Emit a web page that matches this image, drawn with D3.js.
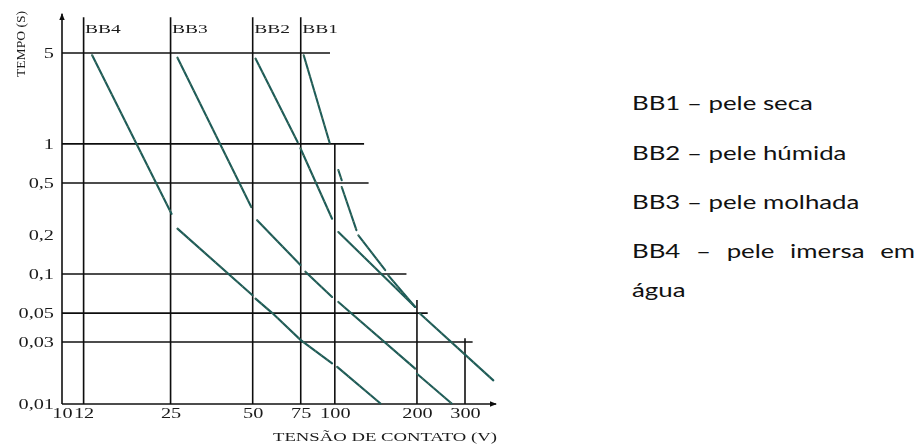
<!DOCTYPE html>
<html>
<head>
<meta charset="utf-8">
<script src="https://cdn.jsdelivr.net/npm/d3@7"></script>
<style>
  html, body { margin: 0; padding: 0; background: #fff; }
  svg { display: block; }
</style>
</head>
<body>
<script>
// Contact voltage (V) vs. maximum disconnection time (s), log-log
const xTicks = [10, 12, 25, 50, 75, 100, 200, 300];
const xTickLabels = ["10", "12", "25", "50", "75", "100", "200", "300"];
const yTicks = [0.01, 0.03, 0.05, 0.1, 0.2, 0.5, 1, 5];
const yTickLabels = ["0,01", "0,03", "0,05", "0,1", "0,2", "0,5", "1", "5"];

// horizontal reference lines: [time (s), voltage where the line stops]
const hGrid = [[5, 96], [1, 128], [0.5, 133], [0.1, 183], [0.05, 219], [0.03, 320]];
// vertical reference lines: [voltage, time where the line stops]
const vGrid = [[12, 9.4], [25, 9.4], [50, 9.4], [75, 9.4], [100, 1], [200, 0.063], [300, 0.032]];

// curve names written at the top of their starting voltage
const curveNames = ["BB4", "BB3", "BB2", "BB1"];
const curveStart = [12, 25, 50, 75];

// each curve is drawn as a series of broken strokes: [voltage, time]
const bb1 = [
  [[76.9, 4.8], [95.7, 1.02]],
  [[103, 0.63], [106, 0.525]],
  [[106, 0.466], [120, 0.217]],
  [[122, 0.198], [153, 0.107]],
  [[157, 0.0976], [197, 0.0557]],
  [[205, 0.0496], [381, 0.0152]]
];
const bb2 = [
  [[51.2, 4.53], [73.1, 1.03]],
  [[74.8, 0.925], [97.7, 0.266]],
  [[103, 0.21], [197, 0.0557]]
];
const bb3 = [
  [[26.5, 4.6], [49.4, 0.327]],
  [[51.9, 0.259], [74.8, 0.117]],
  [[78, 0.104], [97.7, 0.0665]],
  [[103, 0.0609], [197, 0.0187]],
  [[200, 0.0171], [268, 0.0101]]
];
const bb4 = [
  [[12.9, 4.8], [25.2, 0.29]],
  [[26.5, 0.223], [49.9, 0.0685]],
  [[51.2, 0.0646], [59, 0.05], [75, 0.031], [97.7, 0.0205]],
  [[102, 0.0193], [147, 0.0101]]
];

const legendLines = [
  "BB1 – pele seca",
  "BB2 – pele húmida",
  "BB3 – pele molhada",
  "BB4 – pele imersa em",
  "água"
];

const xAxisTitle = "TENSÃO DE CONTATO (V)";
const yAxisTitle = "TEMPO (S)";
const xAxisEnd = 390;
const yAxisEnd = 10;

const W = 918, H = 448;
const serif = "'Liberation Serif', 'Times New Roman', serif";
const stretch = 1.45;

const svg = d3.select("body").append("svg")
  .attr("width", W).attr("height", H)
  .attr("viewBox", `0 0 ${W} ${H}`);

const defs = svg.append("defs");
defs.append("filter").attr("id", "soft")
  .append("feGaussianBlur").attr("stdDeviation", 0.35);
["arrowUp", "arrowRight"].forEach(id => {
  defs.append("marker")
    .attr("id", id)
    .attr("viewBox", "0 0 10 10")
    .attr("refX", 9).attr("refY", 5)
    .attr("markerWidth", 7).attr("markerHeight", 7)
    .attr("markerUnits", "userSpaceOnUse")
    .attr("orient", "auto")
    .append("path").attr("d", "M0,1 L10,5 L0,9 Z").attr("fill", "#111");
});

const x = d3.scaleLog().domain([10, 300]).range([62, 465]);
const y = d3.scaleLog().domain([0.01, 5]).range([404, 53]);

const chart = svg.append("g").attr("filter", "url(#soft)");

// reference grid
chart.append("g").selectAll("line").data(hGrid).join("line")
  .attr("x1", x(10)).attr("x2", d => x(d[1]))
  .attr("y1", d => y(d[0])).attr("y2", d => y(d[0]))
  .attr("stroke", "#111").attr("stroke-width", 1.6);

chart.append("g").selectAll("line").data(vGrid).join("line")
  .attr("x1", d => x(d[0])).attr("x2", d => x(d[0]))
  .attr("y1", y(0.01)).attr("y2", d => y(d[1]))
  .attr("stroke", "#111").attr("stroke-width", 1.6);

// axes with arrow heads
chart.append("line")
  .attr("x1", x(10)).attr("x2", x(10))
  .attr("y1", y(0.01)).attr("y2", y(yAxisEnd))
  .attr("stroke", "#111").attr("stroke-width", 1.6)
  .attr("marker-end", "url(#arrowUp)");
chart.append("line")
  .attr("x1", x(10)).attr("x2", x(xAxisEnd))
  .attr("y1", y(0.01)).attr("y2", y(0.01))
  .attr("stroke", "#111").attr("stroke-width", 1.6)
  .attr("marker-end", "url(#arrowRight)");

// tick labels
const xAxis = chart.append("g")
  .attr("transform", `translate(0,${y(0.01)})`)
  .call(d3.axisBottom(x).tickValues(xTicks)
    .tickFormat((d, i) => xTickLabels[i])
    .tickSize(0).tickPadding(4));
xAxis.select(".domain").remove();
xAxis.selectAll("text")
  .attr("font-family", serif).attr("font-size", 14).attr("fill", "#1a1a1a")
  .attr("transform", `scale(${stretch},1)`);

const yAxis = chart.append("g")
  .attr("transform", `translate(${x(10)},0)`)
  .call(d3.axisLeft(y).tickValues(yTicks)
    .tickFormat((d, i) => yTickLabels[i])
    .tickSize(0).tickPadding(8));
yAxis.select(".domain").remove();
yAxis.selectAll("text")
  .attr("font-family", serif).attr("font-size", 14).attr("fill", "#1a1a1a")
  .attr("x", -8 / stretch)
  .attr("transform", `scale(${stretch},1)`);

// curve names
chart.append("g").selectAll("text").data(curveNames).join("text")
  .attr("transform", (d, i) => `translate(${x(curveStart[i]) + 1.5},33) scale(1.5,1)`)
  .attr("font-family", serif).attr("font-size", 13).attr("fill", "#1a1a1a")
  .text(d => d);

// axis titles
chart.append("text")
  .attr("x", 0).attr("y", 0)
  .attr("transform", "translate(273,441)")
  .attr("font-family", serif).attr("font-size", 13.5).attr("fill", "#1a1a1a")
  .attr("textLength", 224).attr("lengthAdjust", "spacingAndGlyphs")
  .text(xAxisTitle);

chart.append("text")
  .attr("transform", "translate(25,44) rotate(-90)")
  .attr("text-anchor", "middle")
  .attr("font-family", serif).attr("font-size", 13).attr("fill", "#1a1a1a")
  .attr("textLength", 66).attr("lengthAdjust", "spacingAndGlyphs")
  .text(yAxisTitle);

// curves
const line = d3.line().x(d => x(d[0])).y(d => y(d[1]));
const curves = [bb1, bb2, bb3, bb4];
const curveG = chart.append("g");
curves.forEach(segs => {
  curveG.append("g").selectAll("path").data(segs).join("path")
    .attr("d", line)
    .attr("fill", "none")
    .attr("stroke", "#1f5b58")
    .attr("stroke-width", 2.1)
    .attr("stroke-linecap", "round");
  curveG.append("g").selectAll("path").data(segs).join("path")
    .attr("d", line)
    .attr("fill", "none")
    .attr("stroke", "#a8a060")
    .attr("stroke-width", 0.8)
    .attr("stroke-dasharray", "1.2 6")
    .attr("opacity", 0.7);
});

// legend
const legendX = 632;
const legendBase = [110, 160, 209, 258, 297];
const legend = svg.append("g")
  .attr("font-family", "Lato, 'Open Sans', sans-serif")
  .attr("font-size", 19)
  .attr("fill", "#111");

const items = legend.selectAll("text").data(legendLines).join("text")
  .attr("x", 0).attr("y", 0)
  .text(d => d);

// horizontal stretch taken from the first line's width
const firstWidth = items.nodes()[0].getComputedTextLength();
const k = 181 / firstWidth;
items.attr("transform", (d, i) => `translate(${legendX},${legendBase[i]}) scale(${k},1)`);

// justify the fourth line (it wraps onto "água")
const fourth = items.filter((d, i) => i === 3);
const natural = fourth.node().getComputedTextLength();
const spaces = (legendLines[3].match(/ /g) || []).length;
fourth.attr("word-spacing", (283 / k - natural) / spaces);
</script>
</body>
</html>
